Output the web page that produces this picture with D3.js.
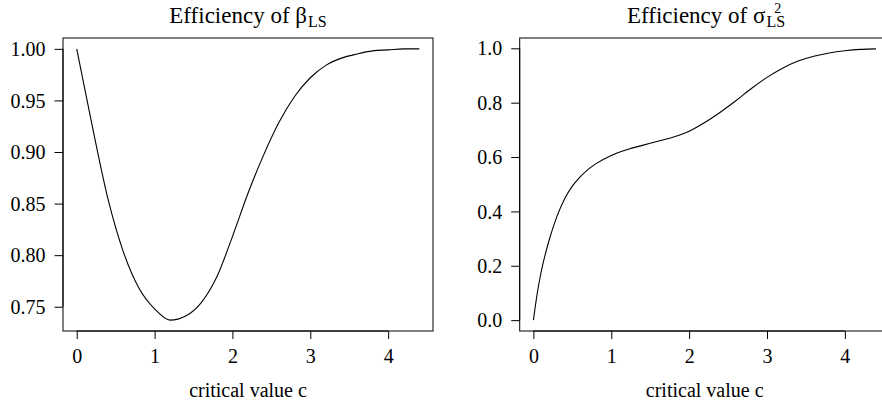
<!DOCTYPE html>
<html><head><meta charset="utf-8">
<script src="https://cdn.jsdelivr.net/npm/d3@7"></script>
<style>
body{margin:0;background:#fff}
svg text{font-family:'Liberation Serif','Times New Roman','DejaVu Serif',serif !important;fill:#000}
</style>
</head><body>
<svg id="chart" width="882" height="407"></svg>
<script>
// ---- data ----
const cBeta = [0,0.2,0.4,0.6,0.8,1.0,1.2,1.4,1.6,1.8,2.0,2.2,2.4,2.6,2.8,3.0,3.2,3.4,3.6,3.8,4.0,4.2,4.4];
const betaEff = [1.000,0.925,0.855,0.803,0.768,0.748,0.737,0.741,0.754,0.779,0.818,0.860,0.897,0.929,0.954,0.972,0.984,0.991,0.995,0.998,0.999,1.000,1.000];
const cSigma = [0,0.05,0.1,0.2,0.3,0.4,0.5,0.6,0.7,0.8,1.0,1.2,1.4,1.6,1.8,2.0,2.2,2.4,2.6,2.8,3.0,3.2,3.4,3.6,3.8,4.0,4.2,4.4];
const sigmaEff = [0.000,0.100,0.178,0.292,0.380,0.446,0.493,0.527,0.554,0.575,0.606,0.627,0.643,0.658,0.674,0.695,0.727,0.765,0.807,0.852,0.893,0.927,0.953,0.971,0.983,0.991,0.996,0.998];
const xTicks = [0,1,2,3,4];
const betaTicks = [0.75,0.80,0.85,0.90,0.95,1.00];
const betaTickLabels = ["0.75","0.80","0.85","0.90","0.95","1.00"];
const sigmaTicks = [0.0,0.2,0.4,0.6,0.8,1.0];
const sigmaTickLabels = ["0.0","0.2","0.4","0.6","0.8","1.0"];
const xLabel = "critical value c";

const FONT = "'Liberation Serif','Times New Roman','DejaVu Serif',serif";
const svg = d3.select("#chart").attr("font-family", FONT);
const FS = 20;

function pad(ext){const r=ext[1]-ext[0];return [ext[0]-0.04*r, ext[1]+0.04*r];}

function panel(opt){
  const {left,right,top,bottom,xs,ys,yTicks,yLabels} = opt;
  const x = d3.scaleLinear().domain(pad(d3.extent(xs))).range([left,right]);
  const y = d3.scaleLinear().domain(pad(d3.extent(ys))).range([bottom,top]);
  const g = svg.append("g");
  g.append("rect").attr("x",left).attr("y",top).attr("width",right-left).attr("height",bottom-top)
    .attr("fill","none").attr("stroke","#000").attr("stroke-width",1);
  const xa = g.append("g").attr("transform",`translate(0,${bottom})`)
    .call(d3.axisBottom(x).tickValues(xTicks).tickFormat(d3.format("d")).tickSize(8).tickPadding(9.5));
  xa.attr("font-family", FONT).attr("font-size", FS);
  xa.select(".domain").remove();
  xa.selectAll("text").attr("font-size",FS).style("font-family",FONT);
  xa.selectAll("line").attr("stroke","#000");
  xa.append("line").attr("x1",x(xTicks[0])).attr("x2",x(xTicks[xTicks.length-1])).attr("stroke","#000");
  const ya = g.append("g").attr("transform",`translate(${left},0)`)
    .call(d3.axisLeft(y).tickValues(yTicks).tickFormat((d,i)=>yLabels[i]).tickSize(8.5).tickPadding(9));
  ya.attr("font-family", FONT).attr("font-size", FS);
  ya.select(".domain").remove();
  ya.selectAll("text").attr("font-size",FS).style("font-family",FONT).attr("dy","0.33em");
  ya.selectAll("line").attr("stroke","#000");
  ya.append("line").attr("y1",y(yTicks[0])).attr("y2",y(yTicks[yTicks.length-1])).attr("stroke","#000");
  const data = xs.map((c,i)=>[c,ys[i]]);
  g.append("path").datum(data).attr("fill","none").attr("stroke","#000").attr("stroke-width",1.1)
    .attr("d",d3.line().x(d=>x(d[0])).y(d=>y(d[1])).curve(d3.curveMonotoneX));
  g.append("text").attr("x",(left+right)/2).attr("y",397).attr("text-anchor","middle")
    .attr("font-size",FS).style("font-family",FONT).text(xLabel);
  return g;
}

panel({left:63,right:433,top:38,bottom:331,xs:cBeta,ys:betaEff,yTicks:betaTicks,yLabels:betaTickLabels});
panel({left:519.7,right:889.7,top:38,bottom:331,xs:cSigma,ys:sigmaEff,yTicks:sigmaTicks,yLabels:sigmaTickLabels});

const TFS = 23, SFS = 16, SUPFS = 14;
function title(cx, mainStr, sup, sub){
  const t = svg.append("text").attr("y",23.3).attr("font-size",TFS).style("font-family",FONT).text(mainStr);
  const w = t.node().getComputedTextLength();
  const subT = svg.append("text").attr("y",27).attr("font-size",SFS).style("font-family",FONT).text(sub);
  const sw = subT.node().getComputedTextLength();
  let supW = 0, supT = null;
  if(sup){ supT = svg.append("text").attr("y",12.5).attr("font-size",SUPFS).style("font-family",FONT).text(sup); supW = supT.node().getComputedTextLength(); }
  const total = w + 1 + Math.max(sw, supW);
  const x0 = cx - total/2;
  t.attr("x",x0);
  subT.attr("x",x0+w+1);
  if(supT) supT.attr("x",x0+w+1+(sw-supW)/2+2);
}
title(248, "Efficiency of \u03B2", null, "LS");
title(706, "Efficiency of \u03C3", "2", "LS");
</script>
</body></html>
